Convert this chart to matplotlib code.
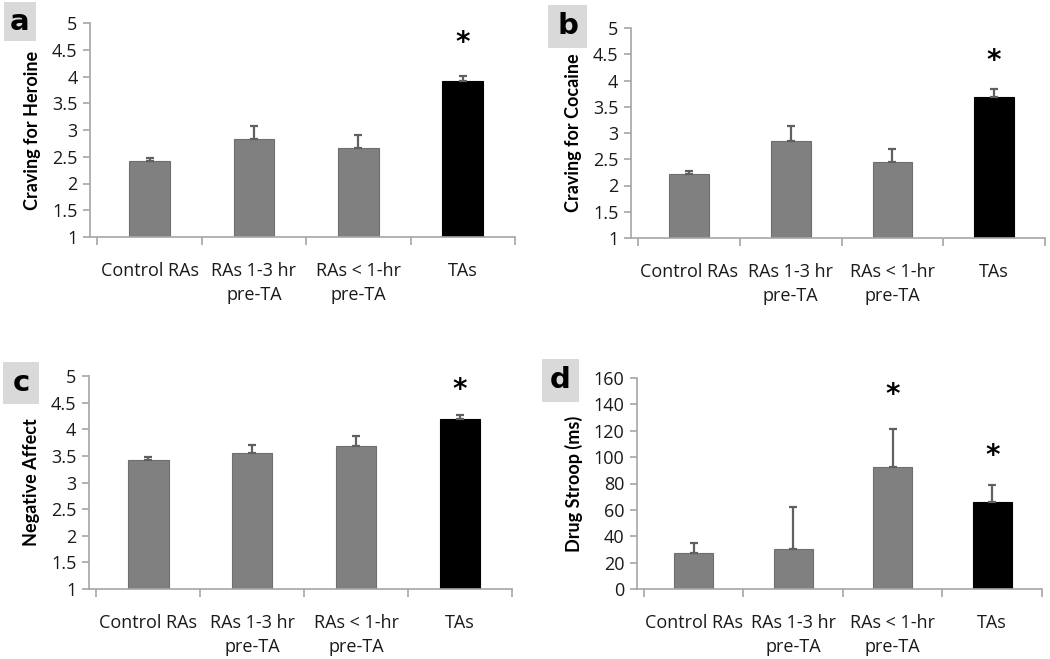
import matplotlib
matplotlib.use("Agg")
import matplotlib.pyplot as plt
from matplotlib.patches import Rectangle

plt.rcParams['font.family'] = ['Open Sans', 'DejaVu Sans']

categories = ["Control RAs", "RAs 1-3 hr\npre-TA", "RAs < 1-hr\npre-TA", "TAs"]

heroine = [2.42, 2.83, 2.67, 3.91]
heroine_err = [0.06, 0.25, 0.23, 0.10]
cocaine = [2.21, 2.85, 2.44, 3.68]
cocaine_err = [0.07, 0.29, 0.26, 0.15]
neg_affect = [3.42, 3.55, 3.69, 4.20]
neg_affect_err = [0.05, 0.15, 0.18, 0.06]
stroop = [27.6, 30.1, 92.7, 65.8]
stroop_err = [7.6, 32.4, 28.8, 13.4]

heroine_stars = {3: 4.62}
cocaine_stars = {3: 4.37}
neg_affect_stars = {3: 4.73}
stroop_stars = {2: 147, 3: 101}

W, H = 1050, 659
fig = plt.figure(figsize=(W / 100, H / 100), dpi=100)

def rect(l, t, r, b):
    return [l / W, 1 - b / H, (r - l) / W, (b - t) / H]

AX_COL = '#a6a6a6'
GREY = '#808080'

panels = [
    dict(box=rect(90, 23, 515, 237), vals=heroine, err=heroine_err, stars=heroine_stars,
         ylim=(1, 5), ticks=[1, 1.5, 2, 2.5, 3, 3.5, 4, 4.5, 5], ylabel="Craving for Heroine",
         letter="a", lbox=(4, 2, 36, 41)),
    dict(box=rect(631, 28, 1045, 238), vals=cocaine, err=cocaine_err, stars=cocaine_stars,
         ylim=(1, 5), ticks=[1, 1.5, 2, 2.5, 3, 3.5, 4, 4.5, 5], ylabel="Craving for Cocaine",
         letter="b", lbox=(548, 5, 587, 48)),
    dict(box=rect(89, 376, 512, 589), vals=neg_affect, err=neg_affect_err, stars=neg_affect_stars,
         ylim=(1, 5), ticks=[1, 1.5, 2, 2.5, 3, 3.5, 4, 4.5, 5], ylabel="Negative Affect",
         letter="c", lbox=(3, 362, 39, 404)),
    dict(box=rect(637, 378, 1042, 589), vals=stroop, err=stroop_err, stars=stroop_stars,
         ylim=(0, 160), ticks=[0, 20, 40, 60, 80, 100, 120, 140, 160], ylabel="Drug Stroop (ms)",
         letter="d", lbox=(542, 359, 579, 402)),
]

for p in panels:
    ax = fig.add_axes(p['box'])
    x = list(range(len(categories)))
    colors = [GREY, GREY, GREY, 'black']
    lo = p['ylim'][0]
    ax.bar(x, [v - lo for v in p['vals']], bottom=lo, width=0.39, color=colors,
           edgecolor=['#6e6e6e', '#6e6e6e', '#6e6e6e', 'black'], linewidth=0.8, zorder=2)
    ax.errorbar(x, p['vals'], yerr=[[0] * 4, p['err']], fmt='none', ecolor='#606060',
                elinewidth=1.6, capsize=3, capthick=1.6, zorder=3)
    for i, sy in p['stars'].items():
        ax.text(i, sy, '*', ha='center', va='center', fontsize=20, fontweight='bold',
                family='DejaVu Sans', color='black')
    ax.set_xlim(-0.57, 3.5)
    ax.set_ylim(*p['ylim'])
    ax.set_yticks(p['ticks'])
    ax.set_yticklabels([f"{t:g}" for t in p['ticks']], fontsize=13, color='#1a1a1a')
    ax.set_xticks(x)
    ax.set_xticklabels(categories, fontsize=13, color='#1a1a1a', linespacing=1.45)
    ax.set_xticks([-0.5, 0.5, 1.5, 2.5, 3.5], minor=True)
    ax.tick_params(axis='x', which='major', length=0, pad=18)
    ax.tick_params(axis='x', which='minor', length=6, color=AX_COL, width=1.2)
    ax.tick_params(axis='y', length=5, color=AX_COL, width=1.2, pad=4)
    for s in ['top', 'right']:
        ax.spines[s].set_visible(False)
    for s in ['left', 'bottom']:
        ax.spines[s].set_color(AX_COL)
        ax.spines[s].set_linewidth(1.2)
    ax.set_ylabel(p['ylabel'], fontsize=13, fontweight='bold', labelpad=8,
                  family=['Lato', 'DejaVu Sans'])
    l, t, r, b = p['lbox']
    fig.patches.append(Rectangle((l / W, 1 - b / H), (r - l) / W, (b - t) / H,
                                 transform=fig.transFigure, facecolor='#d9d9d9',
                                 edgecolor='none', zorder=0))
    fig.text((l + r) / 2 / W, 1 - (t + b) / 2 / H, p['letter'], ha='center', va='center',
             fontsize=21, fontweight='bold', family='DejaVu Sans')

fig.savefig('out.png', dpi=100)
